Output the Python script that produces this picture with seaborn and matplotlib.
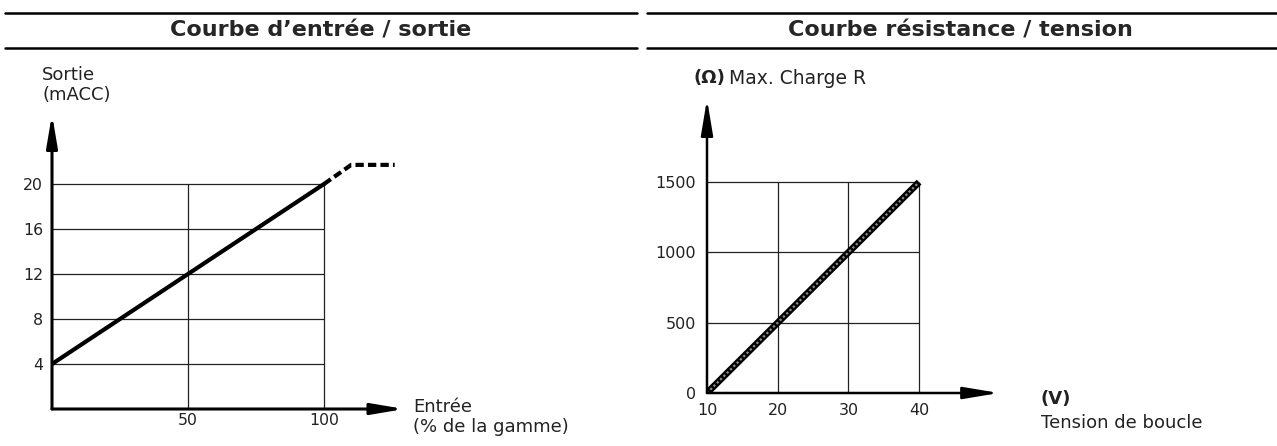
import matplotlib
matplotlib.use("Agg")
import matplotlib.pyplot as plt
from matplotlib.lines import Line2D
import seaborn as sns

sns.set_style("white")
plt.rcParams["font.family"] = ["DejaVu Sans"]

W, H = 1277, 446

# --- data: input / output curve ---
entree = [0, 100]
sortie = [4, 20]
sat_entree = [100, 110, 126]
sat_sortie = [20, 21.7, 21.7]
io_yticks = [4, 8, 12, 16, 20]
io_xticks = [50, 100]

# --- data: resistance / voltage curve ---
tension = [10, 40]
charge = [0, 1500]
rv_yticks = [0, 500, 1000, 1500]
rv_xticks = [10, 20, 30, 40]


def fx(px):
    return px / W


def fy(py):
    return 1 - py / H


def place_axes(fig, ox, oy, ppu_x, ppu_y, xlim, ylim):
    """Axes whose data origin (xlim[0], ylim[0]) sits at pixel (ox, oy)."""
    w = (xlim[1] - xlim[0]) * ppu_x
    h = (ylim[1] - ylim[0]) * ppu_y
    ax = fig.add_axes([fx(ox), fy(oy), w / W, h / H])
    ax.set_xlim(*xlim)
    ax.set_ylim(*ylim)
    for s in ax.spines.values():
        s.set_visible(False)
    ax.set_facecolor("none")
    return ax


def axis_arrows(ax, xlim, ylim, lw, hl, hw):
    style = f"-|>,head_length={hl},head_width={hw}"
    props = dict(arrowstyle=style, lw=lw, color="black", mutation_scale=30,
                 shrinkA=0, shrinkB=0)
    ax.annotate("", xy=(xlim[1], ylim[0]), xytext=(xlim[0], ylim[0]),
                arrowprops=props, annotation_clip=False)
    ax.annotate("", xy=(xlim[0], ylim[1]), xytext=(xlim[0], ylim[0]),
                arrowprops=props, annotation_clip=False)


fig = plt.figure(figsize=(W / 100, H / 100), dpi=100)

# header lines and titles
for x0, x1 in [(5, 637), (647, 1277)]:
    for y in (13, 48):
        fig.add_artist(Line2D([fx(x0), fx(x1)], [fy(y), fy(y)],
                              color="black", lw=1.8))
fig.text(fx(321), fy(31), "Courbe d\u2019entrée / sortie", ha="center",
         va="center", fontsize=16, fontweight="bold")
fig.text(fx(960), fy(31), "Courbe résistance / tension", ha="center",
         va="center", fontsize=16, fontweight="bold")

# ---------------- left chart ----------------
xl, yl = (0, 129.5), (0, 26.2)
ax1 = place_axes(fig, 52, 409, 2.72, 11.25, xl, yl)
ax1.hlines(io_yticks, 0, 100, color="#222222", lw=0.9)
ax1.vlines(io_xticks, 0, 20, color="#222222", lw=0.9)
sns.lineplot(x=entree, y=sortie, ax=ax1, color="black", lw=3)
sns.lineplot(x=sat_entree, y=sat_sortie, ax=ax1, color="black", lw=3,
             linestyle=(0, (2, 1)))
axis_arrows(ax1, xl, yl, 2.2, 0.65, 0.11)
ax1.set_yticks(io_yticks)
ax1.set_xticks(io_xticks)
ax1.set_xlabel("")
ax1.set_ylabel("")
ax1.tick_params(axis="y", length=0, pad=6.5, labelsize=11.3, colors="#222222")
ax1.tick_params(axis="x", length=0, pad=3, labelsize=11.3, colors="#222222")

fig.text(fx(42), fy(66), "Sortie\n(mACC)", ha="left", va="top",
         fontsize=13, color="#222222", linespacing=1.15)
fig.text(fx(413), fy(398), "Entrée\n(% de la gamme)", ha="left", va="top",
         fontsize=13, color="#222222", linespacing=1.15)

# ---------------- right chart ----------------
xr, yr = (10, 51.3), (0, 2090)
ax2 = place_axes(fig, 707, 393, 7.07, 0.1406, xr, yr)
ax2.hlines(rv_yticks[1:], 10, 40, color="#222222", lw=0.9)
ax2.vlines(rv_xticks[1:], 0, 1500, color="#222222", lw=0.9)
sns.lineplot(x=tension, y=charge, ax=ax2, color="black", lw=4.8,
             solid_capstyle="butt")
sns.lineplot(x=tension, y=charge, ax=ax2, color="#8c8c8c", lw=1.6,
             linestyle=(0, (1.0, 1.1)))
axis_arrows(ax2, xr, yr, 1.8, 0.72, 0.12)
ax2.set_yticks(rv_yticks)
ax2.set_xticks(rv_xticks)
ax2.set_xlabel("")
ax2.set_ylabel("")
ax2.tick_params(axis="y", length=0, pad=8, labelsize=11.5, colors="#222222")
ax2.tick_params(axis="x", length=0, pad=7, labelsize=11.5, colors="#222222")

fig.text(fx(693), fy(78), "(\u03a9)", ha="left", va="center", fontsize=13,
         fontweight="bold", color="#222222")
fig.text(fx(729), fy(78), "Max. Charge R", ha="left", va="center",
         fontsize=13.5, color="#222222")
fig.text(fx(1041), fy(399), "(V)", ha="left", va="center", fontsize=13,
         fontweight="bold", color="#222222")
fig.text(fx(1041), fy(423), "Tension de boucle", ha="left", va="center",
         fontsize=13, color="#222222")

fig.savefig("out.png", dpi=100)
